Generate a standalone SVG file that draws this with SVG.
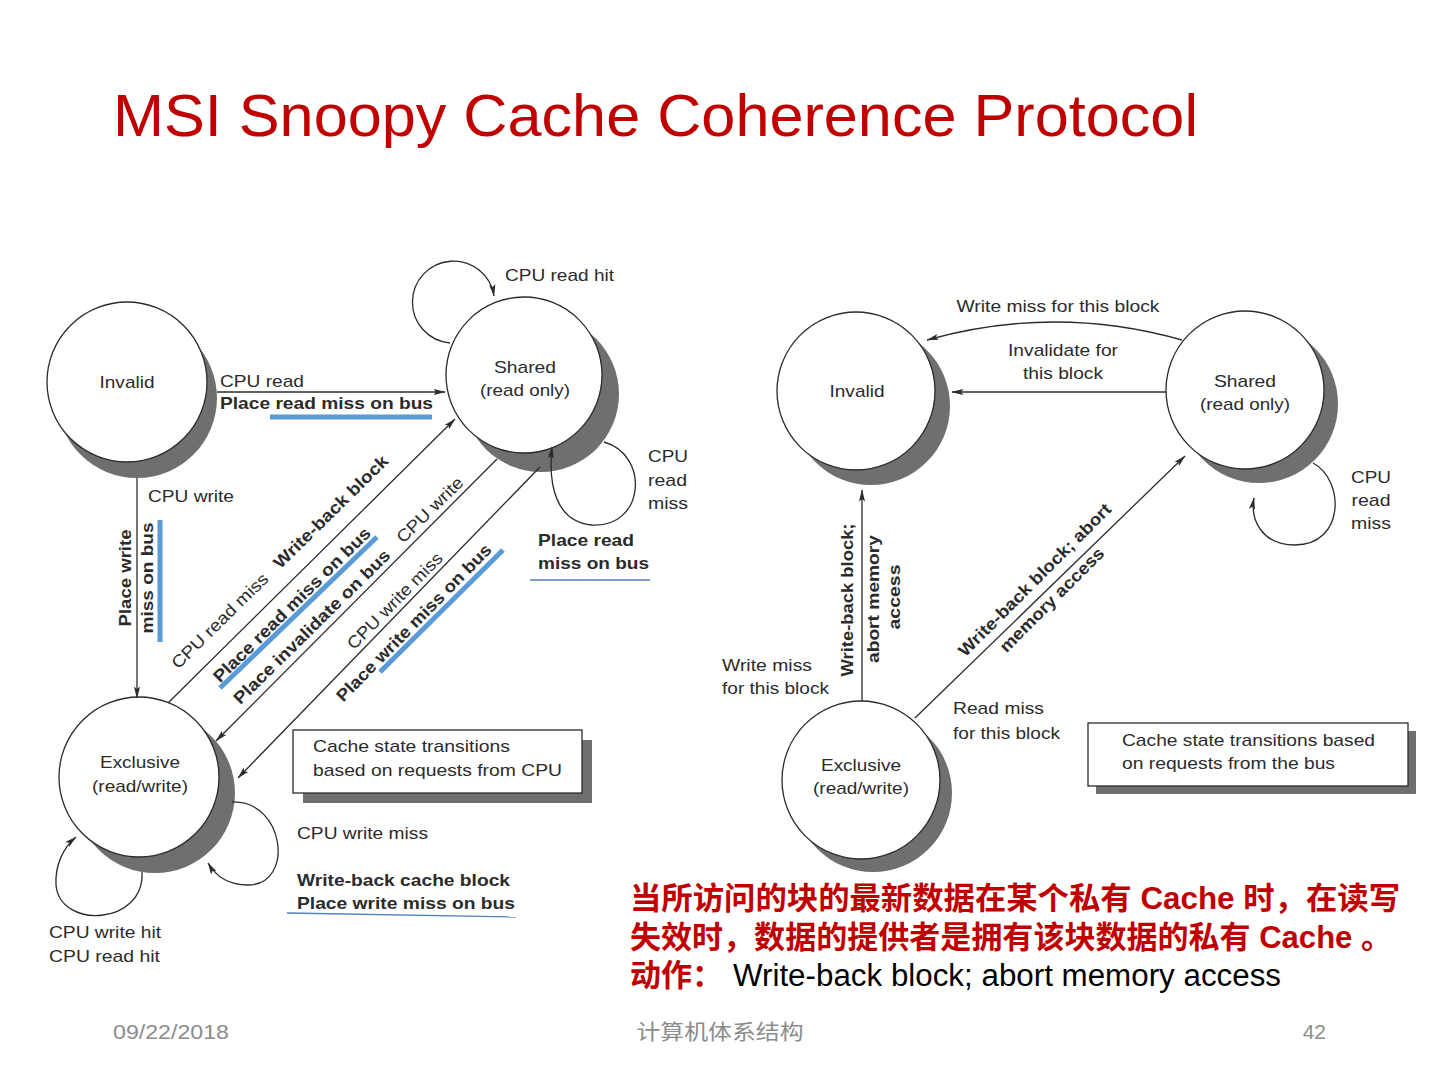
<svg xmlns="http://www.w3.org/2000/svg" width="1440" height="1080" viewBox="0 0 1440 1080">
<style>
.t{font-family:"Liberation Sans",Arial,sans-serif;font-size:17px;fill:#2b2b2b;dominant-baseline:central}
.b{font-weight:bold}
.m{text-anchor:middle}
.ln{fill:none;stroke:#2b2b2b;stroke-width:1.3}
.ar{marker-end:url(#ah)}
.sh{fill:#6f6f6f}
.nd{fill:#fff;stroke:#2b2b2b;stroke-width:1.3}
.bx{fill:#fff;stroke:#2b2b2b;stroke-width:1.3}
.blue{stroke:#5b9bd5;stroke-width:5;fill:none}
.blt{stroke:#4f81bd;stroke-width:1.3;fill:none}
.cn{font-family:"Liberation Sans","Noto Sans CJK SC",sans-serif;font-size:31px;font-weight:bold;fill:#c00000;dominant-baseline:central}
.ft{font-family:"Liberation Sans","Noto Sans CJK SC",sans-serif;font-size:21px;fill:#8c8c8c;dominant-baseline:central}
</style>
<defs>
<marker id="ah" viewBox="0 0 12 8" refX="11.5" refY="4" markerWidth="12" markerHeight="8" markerUnits="userSpaceOnUse" orient="auto">
<path d="M0,0.9 L12,4 L0,7.1 L2.5,4 z" fill="#2b2b2b"/>
</marker>
</defs>
<rect width="1440" height="1080" fill="#fff"/>
<text x="113" y="136" font-family="Liberation Sans,Arial,sans-serif" font-size="60" fill="#c00000" textLength="1085" lengthAdjust="spacingAndGlyphs">MSI Snoopy Cache Coherence Protocol</text>

<!-- LEFT DIAGRAM NODES -->
<g id="L-invalid">
<circle class="sh" cx="137" cy="398" r="80"/>
<circle class="nd" cx="127" cy="382" r="80"/>
<text class="t m" x="127" y="382" textLength="55" lengthAdjust="spacingAndGlyphs">Invalid</text>
</g>
<g id="L-shared">
<circle class="sh" cx="541" cy="394" r="78"/>
<circle class="nd" cx="524" cy="375" r="78"/>
<text class="t m" x="525" y="367" textLength="62" lengthAdjust="spacingAndGlyphs">Shared</text>
<text class="t m" x="525" y="390" textLength="90" lengthAdjust="spacingAndGlyphs">(read only)</text>
</g>
<g id="L-exclusive">
<circle class="sh" cx="155" cy="793" r="80"/>
<circle class="nd" cx="139" cy="777" r="80"/>
<text class="t m" x="140" y="762" textLength="80" lengthAdjust="spacingAndGlyphs">Exclusive</text>
<text class="t m" x="140" y="786" textLength="96" lengthAdjust="spacingAndGlyphs">(read/write)</text>
</g>
<g id="L-legend">
<rect class="sh" x="303" y="740" width="289" height="63"/>
<rect class="bx" x="293" y="730" width="289" height="63"/>
<text class="t" x="313" y="746" textLength="197" lengthAdjust="spacingAndGlyphs">Cache state transitions</text>
<text class="t" x="313" y="770" textLength="249" lengthAdjust="spacingAndGlyphs">based on requests from CPU</text>
</g>

<!-- RIGHT DIAGRAM NODES -->
<g id="R-invalid">
<circle class="sh" cx="871" cy="406" r="79"/>
<circle class="nd" cx="856" cy="391" r="79"/>
<text class="t m" x="857" y="391" textLength="55" lengthAdjust="spacingAndGlyphs">Invalid</text>
</g>
<g id="R-shared">
<circle class="sh" cx="1259" cy="404" r="79"/>
<circle class="nd" cx="1245" cy="390" r="79"/>
<text class="t m" x="1245" y="381" textLength="62" lengthAdjust="spacingAndGlyphs">Shared</text>
<text class="t m" x="1245" y="404" textLength="90" lengthAdjust="spacingAndGlyphs">(read only)</text>
</g>
<g id="R-exclusive">
<circle class="sh" cx="873" cy="793" r="79"/>
<circle class="nd" cx="861" cy="780" r="79"/>
<text class="t m" x="861" y="765" textLength="80" lengthAdjust="spacingAndGlyphs">Exclusive</text>
<text class="t m" x="861" y="788" textLength="96" lengthAdjust="spacingAndGlyphs">(read/write)</text>
</g>
<g id="R-legend">
<rect class="sh" x="1096" y="731" width="320" height="63"/>
<rect class="bx" x="1088" y="723" width="320" height="63"/>
<text class="t" x="1122" y="740" textLength="253" lengthAdjust="spacingAndGlyphs">Cache state transitions based</text>
<text class="t" x="1122" y="763" textLength="213" lengthAdjust="spacingAndGlyphs">on requests from the bus</text>
</g>

<!-- CONNECTORS -->
<g id="connectors">
<path class="ln ar" d="M217,392 H445"/>
<path class="ln ar" d="M137,478 V698"/>
<path class="ln ar" d="M168,703 L455,419"/>
<path class="ln ar" d="M497,459 L216,741"/>
<path class="ln ar" d="M540,467 L238,778"/>
<path class="ln ar" d="M450,343 A41,41 0 1 1 494,296"/>
<path class="ln ar" d="M604,442 C650,455 645,528 592,525 C556,522 548,485 552,447"/>
<path class="ln ar" d="M232,802 C285,800 295,885 248,885 C228,885 215,875 208,863"/>
<path class="ln ar" d="M142,872 C145,925 60,930 56,885 C55,865 63,848 76,837"/>
<path class="ln ar" d="M1182,340 Q1055,304 927,340"/>
<path class="ln ar" d="M1166,392 H952"/>
<path class="ln ar" d="M862,701 V490"/>
<path class="ln ar" d="M915,718 L1185,456"/>
<path class="ln ar" d="M1313,463 C1345,480 1345,545 1295,545 C1262,545 1250,520 1254,498"/>
</g>

<!-- LEFT LABELS -->
<g id="L-labels">
<text class="t" x="505" y="275" textLength="109" lengthAdjust="spacingAndGlyphs">CPU read hit</text>
<text class="t" x="220" y="381" textLength="84" lengthAdjust="spacingAndGlyphs">CPU read</text>
<text class="t b" x="220" y="403" textLength="213" lengthAdjust="spacingAndGlyphs">Place read miss on bus</text>
<text class="t" x="148" y="496" textLength="86" lengthAdjust="spacingAndGlyphs">CPU write</text>
<text class="t b m" transform="translate(125,578) rotate(-90)" textLength="97" lengthAdjust="spacingAndGlyphs">Place write</text>
<text class="t b m" transform="translate(147,578) rotate(-90)" textLength="111" lengthAdjust="spacingAndGlyphs">miss on bus</text>
<text class="t" x="648" y="456" textLength="40" lengthAdjust="spacingAndGlyphs">CPU</text>
<text class="t" x="648" y="480" textLength="39" lengthAdjust="spacingAndGlyphs">read</text>
<text class="t" x="648" y="503" textLength="40" lengthAdjust="spacingAndGlyphs">miss</text>
<text class="t b" x="538" y="540" textLength="96" lengthAdjust="spacingAndGlyphs">Place read</text>
<text class="t b" x="538" y="563" textLength="111" lengthAdjust="spacingAndGlyphs">miss on bus</text>
<text class="t m" transform="translate(220,621) rotate(-44.5)" textLength="128" lengthAdjust="spacingAndGlyphs">CPU read miss</text>
<text class="t b m" transform="translate(331,512) rotate(-44.5)" textLength="153" lengthAdjust="spacingAndGlyphs">Write-back block</text>
<text class="t b m" transform="translate(292,605) rotate(-44.5)" textLength="213" lengthAdjust="spacingAndGlyphs">Place read miss on bus</text>
<text class="t b m" transform="translate(312,627) rotate(-44.5)" textLength="212" lengthAdjust="spacingAndGlyphs">Place invalidate on bus</text>
<text class="t m" transform="translate(430,510) rotate(-44.5)" textLength="86" lengthAdjust="spacingAndGlyphs">CPU write</text>
<text class="t m" transform="translate(395,601) rotate(-45.5)" textLength="128" lengthAdjust="spacingAndGlyphs">CPU write miss</text>
<text class="t b m" transform="translate(414,623) rotate(-45.5)" textLength="213" lengthAdjust="spacingAndGlyphs">Place write miss on bus</text>
<text class="t" x="297" y="833" textLength="131" lengthAdjust="spacingAndGlyphs">CPU write miss</text>
<text class="t b" x="297" y="880" textLength="213" lengthAdjust="spacingAndGlyphs">Write-back cache block</text>
<text class="t b" x="297" y="903" textLength="218" lengthAdjust="spacingAndGlyphs">Place write miss on bus</text>
<text class="t" x="49" y="932" textLength="112" lengthAdjust="spacingAndGlyphs">CPU write hit</text>
<text class="t" x="49" y="956" textLength="111" lengthAdjust="spacingAndGlyphs">CPU read hit</text>
</g>

<!-- BLUE HIGHLIGHTS -->
<g id="highlights">
<line class="blue" x1="270" y1="417" x2="432" y2="417" stroke-width="4"/>
<line class="blue" x1="160" y1="520" x2="160" y2="642"/>
<line class="blue" x1="220" y1="688" x2="377" y2="537"/>
<line class="blue" x1="380" y1="672" x2="503" y2="550"/>
<line class="blt" x1="530" y1="580" x2="650" y2="580"/>
<line class="blt" x1="287" y1="913" x2="516" y2="917"/>
</g>

<!-- RIGHT LABELS -->
<g id="R-labels">
<text class="t m" x="1058" y="306" textLength="203" lengthAdjust="spacingAndGlyphs">Write miss for this block</text>
<text class="t m" x="1063" y="350" textLength="110" lengthAdjust="spacingAndGlyphs">Invalidate for</text>
<text class="t m" x="1063" y="373" textLength="80" lengthAdjust="spacingAndGlyphs">this block</text>
<text class="t m" x="1371" y="477" textLength="40" lengthAdjust="spacingAndGlyphs">CPU</text>
<text class="t m" x="1371" y="500" textLength="39" lengthAdjust="spacingAndGlyphs">read</text>
<text class="t m" x="1371" y="523" textLength="40" lengthAdjust="spacingAndGlyphs">miss</text>
<text class="t b m" transform="translate(847,600) rotate(-90)" textLength="153" lengthAdjust="spacingAndGlyphs">Write-back block;</text>
<text class="t b m" transform="translate(873,599) rotate(-90)" textLength="128" lengthAdjust="spacingAndGlyphs">abort memory</text>
<text class="t b m" transform="translate(894,597) rotate(-90)" textLength="65" lengthAdjust="spacingAndGlyphs">access</text>
<text class="t" x="722" y="665" textLength="90" lengthAdjust="spacingAndGlyphs">Write miss</text>
<text class="t" x="722" y="688" textLength="107" lengthAdjust="spacingAndGlyphs">for this block</text>
<text class="t" x="953" y="708" textLength="91" lengthAdjust="spacingAndGlyphs">Read miss</text>
<text class="t" x="953" y="733" textLength="107" lengthAdjust="spacingAndGlyphs">for this block</text>
<text class="t b m" transform="translate(1035,580) rotate(-45)" textLength="208" lengthAdjust="spacingAndGlyphs">Write-back block; abort</text>
<text class="t b m" transform="translate(1052,600) rotate(-45)" textLength="140" lengthAdjust="spacingAndGlyphs">memory access</text>
</g>

<!-- NOTE -->
<g id="note">
<text class="cn" x="630" y="898" textLength="770" lengthAdjust="spacingAndGlyphs">当所访问的块的最新数据在某个私有 Cache 时，在读写</text>
<text class="cn" x="630" y="937" textLength="762" lengthAdjust="spacingAndGlyphs">失效时，数据的提供者是拥有该块数据的私有 Cache 。</text>
<text class="cn" x="630" y="975">动作：</text>
<text x="733" y="975" font-family="Liberation Sans,Arial,sans-serif" font-size="31" fill="#000" dominant-baseline="central" textLength="548" lengthAdjust="spacingAndGlyphs">Write-back block; abort memory access</text>
</g>

<!-- FOOTER -->
<g id="footer">
<text class="ft" x="113" y="1031" textLength="116" lengthAdjust="spacingAndGlyphs">09/22/2018</text>
<text class="ft" x="720" y="1031" text-anchor="middle" textLength="167" lengthAdjust="spacingAndGlyphs">计算机体系结构</text>
<text class="ft" x="1326" y="1031" text-anchor="end">42</text>
</g>
</svg>
